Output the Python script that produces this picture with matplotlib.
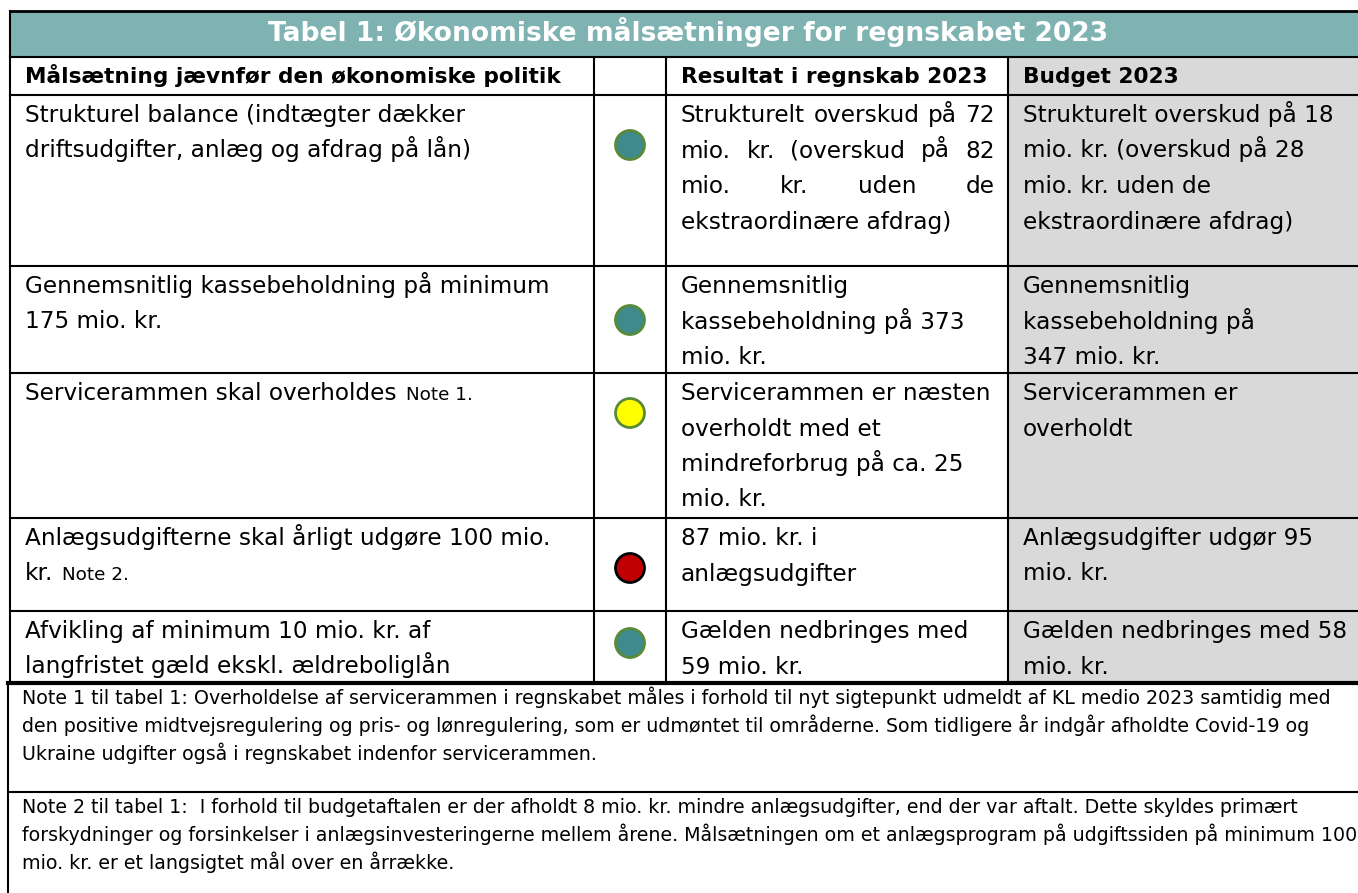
import matplotlib
matplotlib.use("Agg")
import matplotlib.pyplot as plt
from matplotlib.patches import Rectangle, Circle

plt.rcParams['font.family'] = ['DejaVu Sans']

title = "Tabel 1: Økonomiske målsætninger for regnskabet 2023"
headers = ["Målsætning jævnfør den økonomiske politik", "", "Resultat i regnskab 2023", "Budget 2023"]

goals = [
    ["Strukturel balance (indtægter dækker", "driftsudgifter, anlæg og afdrag på lån)"],
    ["Gennemsnitlig kassebeholdning på minimum", "175 mio. kr."],
    ["Servicerammen skal overholdes"],
    ["Anlægsudgifterne skal årligt udgøre 100 mio.", "kr."],
    ["Afvikling af minimum 10 mio. kr. af", "langfristet gæld ekskl. ældreboliglån"],
]
goal_notes = [None, None, "Note 1.", "Note 2.", None]

status_fill = ["#3e8a8c", "#3e8a8c", "#ffff00", "#c00000", "#3e8a8c"]
status_edge = ["#5a8a38", "#5a8a38", "#5a8a38", "#000000", "#5a8a38"]

results = [
    ["Strukturelt overskud på 72", "mio. kr. (overskud på 82", "mio. kr. uden de", "ekstraordinære afdrag)"],
    ["Gennemsnitlig", "kassebeholdning på 373", "mio. kr."],
    ["Servicerammen er næsten", "overholdt med et", "mindreforbrug på ca. 25", "mio. kr."],
    ["87 mio. kr. i", "anlægsudgifter"],
    ["Gælden nedbringes med", "59 mio. kr."],
]
budget = [
    ["Strukturelt overskud på 18", "mio. kr. (overskud på 28", "mio. kr. uden de", "ekstraordinære afdrag)"],
    ["Gennemsnitlig", "kassebeholdning på", "347 mio. kr."],
    ["Servicerammen er", "overholdt"],
    ["Anlægsudgifter udgør 95", "mio. kr."],
    ["Gælden nedbringes med 58", "mio. kr."],
]

notes = [
    ["Note 1 til tabel 1: Overholdelse af servicerammen i regnskabet måles i forhold til nyt sigtepunkt udmeldt af KL medio 2023 samtidig med",
     "den positive midtvejsregulering og pris- og lønregulering, som er udmøntet til områderne. Som tidligere år indgår afholdte Covid-19 og",
     "Ukraine udgifter også i regnskabet indenfor servicerammen."],
    ["Note 2 til tabel 1:  I forhold til budgetaftalen er der afholdt 8 mio. kr. mindre anlægsudgifter, end der var aftalt. Dette skyldes primært",
     "forskydninger og forsinkelser i anlægsinvesteringerne mellem årene. Målsætningen om et anlægsprogram på udgiftssiden på minimum 100",
     "mio. kr. er et langsigtet mål over en årrække."],
]

# layout (pixels)
W, H = 1358, 893
col_x = [10, 594, 666, 1008, W]
title_top, head_top = 11, 57
row_tops = [95, 266, 373, 518, 611, 683]
note_tops = [683, 792, 900]
dot_offsets = [50, 54, 40, 50, 32]
line_h = 35.5
note_line_h = 28
pad_x = 15
fs, fs_small, fs_note = 16.7, 13.2, 13.7

fig = plt.figure(figsize=(W / 100, H / 100), dpi=100)
ax = fig.add_axes([0, 0, 1, 1])
ax.set_xlim(0, W)
ax.set_ylim(H, 0)
ax.axis("off")

# backgrounds
ax.add_patch(Rectangle((col_x[0], title_top), W - col_x[0], head_top - title_top,
                       facecolor="#7fb3b1", edgecolor="none"))
ax.add_patch(Rectangle((col_x[3], head_top), W - col_x[3], row_tops[-1] - head_top,
                       facecolor="#d9d9d9", edgecolor="none"))

# grid lines
lw = 1.5
ax.plot([col_x[0], W], [title_top, title_top], color="black", lw=2)
for y in [head_top, row_tops[0]] + row_tops[1:-1]:
    ax.plot([col_x[0], W], [y, y], color="black", lw=lw)
ax.plot([8, W], [row_tops[-1], row_tops[-1]], color="black", lw=3)
ax.plot([8, W], [note_tops[1], note_tops[1]], color="black", lw=lw)
ax.plot([col_x[0], col_x[0]], [title_top, row_tops[-1]], color="black", lw=lw)
ax.plot([8, 8], [row_tops[-1], H], color="black", lw=lw)
for x in col_x[1:4]:
    ax.plot([x, x], [head_top, row_tops[-1]], color="black", lw=lw)

ax.text(688, (title_top + head_top) / 2 - 2, title, color="white",
        fontsize=19.1, fontweight="bold", ha="center", va="center")

for i, h in enumerate(headers):
    if h:
        ax.text(col_x[i] + pad_x, head_top + 26, h, fontsize=15.6, fontweight="bold",
                ha="left", va="baseline")

renderer = fig.canvas.get_renderer()


def justify(x0, x1, y, line):
    words = line.split()
    ts = [ax.text(0, y, w, fontsize=fs, ha="left", va="baseline") for w in words]
    widths = [t.get_window_extent(renderer).width for t in ts]
    gap = (x1 - x0 - sum(widths)) / (len(words) - 1)
    x = x0
    for t, w in zip(ts, widths):
        t.set_x(x)
        x += w + gap


for r in range(5):
    top = row_tops[r]
    for k, line in enumerate(goals[r]):
        t = ax.text(col_x[0] + pad_x, top + 27 + k * line_h, line, fontsize=fs,
                    ha="left", va="baseline")
        if k == len(goals[r]) - 1 and goal_notes[r]:
            bb = t.get_window_extent(renderer)
            ax.text(bb.x1 + 9, top + 27 + k * line_h, goal_notes[r], fontsize=fs_small,
                    ha="left", va="baseline")
    ax.add_patch(Circle(((col_x[1] + col_x[2]) / 2, top + dot_offsets[r]), 14.5,
                        facecolor=status_fill[r], edgecolor=status_edge[r], lw=2))
    for k, line in enumerate(results[r]):
        y = top + 27 + k * line_h
        if r == 0 and k < len(results[r]) - 1:
            justify(col_x[2] + pad_x, col_x[3] - 13, y, line)
        else:
            ax.text(col_x[2] + pad_x, y, line, fontsize=fs, ha="left", va="baseline")
    for k, line in enumerate(budget[r]):
        ax.text(col_x[3] + pad_x, top + 27 + k * line_h, line, fontsize=fs,
                ha="left", va="baseline")

for n, block in enumerate(notes):
    for k, line in enumerate(block):
        ax.text(22, note_tops[n] + 21 + k * note_line_h, line, fontsize=fs_note,
                ha="left", va="baseline")

fig.savefig("out.png", dpi=100)
